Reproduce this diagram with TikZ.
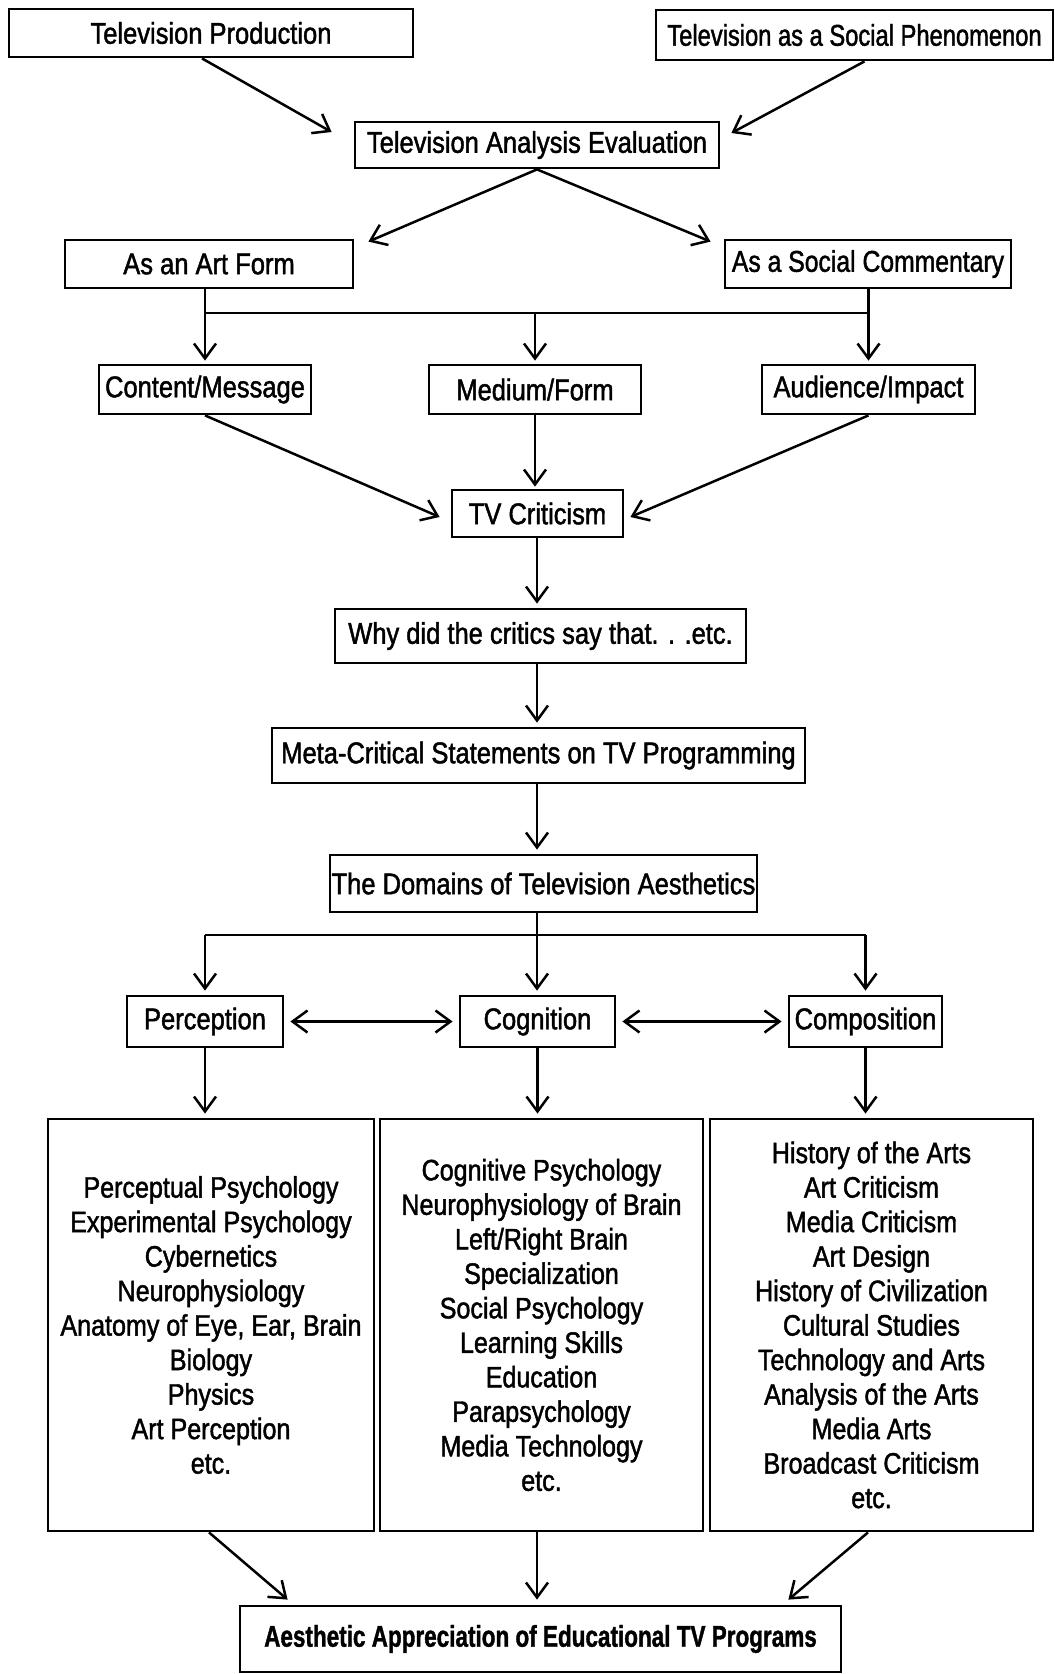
\documentclass[tikz,border=0pt]{standalone}
\usepackage{fontspec}
\setmainfont{Liberation Sans}[FakeStretch=0.85,FakeBold=1.5]
\newfontfamily\aesfont{Liberation Sans}[FakeStretch=0.75,FakeBold=1.2]
\usetikzlibrary{arrows.meta,calc}
\newcommand\sqz[2]{\scalebox{#1}[1]{#2}}
\begin{document}
\begin{tikzpicture}[x=1pt,y=-1pt,
 box/.style={draw,line width=2.8pt,inner sep=0pt,align=center,font=\fontsize{30}{34}\selectfont},
 lst/.style={box,font=\fontsize{29.5}{34.5}\selectfont},
 tip/.tip={Straight Barb[length=15pt,width=22pt]},
 arr/.style={line width=2.5pt,-tip},
 dbl/.style={line width=2.5pt,tip-tip},
 ln/.style={line width=2.5pt}]
\useasboundingbox (0,0) rectangle (1055,1674);
% nodes
\node[box,minimum width=404pt,minimum height=48pt] (tp) at (211,33) {Television Production};
\node[box,minimum width=397pt,minimum height=50pt] (tsp) at (854.5,35) {\sqz{0.93}{Television as a Social Phenomenon}};
\node[box,minimum width=364pt,minimum height=46pt] (tae) at (537,145) {Television Analysis Evaluation};
\node[box,minimum width=288pt,minimum height=48pt] (aaf) at (209,264) {As an Art Form};
\node[box,minimum width=286pt,minimum height=48pt] (asc) at (868,264) {\sqz{0.97}{As a Social Commentary}};
\node[box,minimum width=212pt,minimum height=49pt] (cm) at (205,389.5) {Content/Message};
\node[box,minimum width=212pt,minimum height=49pt] (mf) at (535,389.5) {Medium/Form};
\node[box,minimum width=213pt,minimum height=49pt] (ai) at (868.5,389.5) {Audience/Impact};
\node[box,minimum width=171pt,minimum height=47pt] (tvc) at (537.5,513.5) {TV Criticism};
\node[box,minimum width=411pt,minimum height=54pt] (why) at (540.5,636) {Why did the critics say that. . .etc.};
\node[box,minimum width=533pt,minimum height=55pt] (meta) at (538.5,755.5) {Meta-Critical Statements on TV Programming};
\node[box,minimum width=427pt,minimum height=57pt] (dom) at (543.5,883.5) {The Domains of Television Aesthetics};
\node[box,minimum width=156pt,minimum height=51pt] (per) at (205,1021.5) {Perception};
\node[box,minimum width=155pt,minimum height=51pt] (cog) at (537.5,1021.5) {Cognition};
\node[box,minimum width=153pt,minimum height=51pt] (com) at (865.5,1021.5) {Composition};
\node[lst,minimum width=326pt,minimum height=412pt] (b1) at (211,1325) {Perceptual Psychology\\Experimental Psychology\\Cybernetics\\Neurophysiology\\Anatomy of Eye, Ear, Brain\\Biology\\Physics\\Art Perception\\etc.};
\node[lst,minimum width=323pt,minimum height=412pt] (b2) at (541.5,1325) {Cognitive Psychology\\Neurophysiology of Brain\\Left/Right Brain\\Specialization\\Social Psychology\\Learning Skills\\Education\\Parapsychology\\Media Technology\\etc.};
\node[lst,minimum width=323pt,minimum height=412pt] (b3) at (871.5,1325) {History of the Arts\\Art Criticism\\Media Criticism\\Art Design\\History of Civilization\\Cultural Studies\\Technology and Arts\\Analysis of the Arts\\Media Arts\\Broadcast Criticism\\etc.};
\node[box,minimum width=601pt,minimum height=66pt,font=\aesfont\bfseries\fontsize{30}{34}\selectfont] (aes) at (540.5,1639) {Aesthetic Appreciation of Educational TV Programs};
% helper coordinates
\coordinate (spine) at (537,0);
\coordinate (bar) at (0,313);
\coordinate (dbar) at (0,935);
% connectors
\draw[arr] ([xshift=-9pt]tp.south) -- ([xshift=-22pt,yshift=13pt]tae.west);
\draw[arr] ([xshift=10pt]tsp.south) -- ([xshift=11pt,yshift=12pt]tae.east);
\draw[arr] (tae.south) -- ([xshift=14pt,yshift=-3pt]aaf.north east);
\draw[arr] (tae.south) -- ([xshift=-13pt,yshift=-3pt]asc.north west);
\draw[ln] (aaf.south -| cm.north) -- (cm.north |- bar) -- (ai.north |- bar) -- (asc.south -| ai.north);
\draw[arr,shorten >=3pt] (cm.north |- bar) -- (cm.north);
\draw[arr,shorten >=3pt] (mf.north |- bar) -- (mf.north);
\draw[arr,shorten >=3pt] (ai.north |- bar) -- (ai.north);
\draw[arr] (cm.south) -- ([xshift=-11pt,yshift=-3.5pt]tvc.west);
\draw[arr] (ai.south) -- ([xshift=6pt,yshift=-3.5pt]tvc.east);
\draw[arr,shorten >=2pt] (mf.south) -- (mf.south |- tvc.north);
\draw[arr,shorten >=4pt] (tvc.south -| spine) -- (why.north -| spine);
\draw[arr,shorten >=4pt] (why.south -| spine) -- (meta.north -| spine);
\draw[arr,shorten >=4pt] (meta.south -| spine) -- (dom.north -| spine);
\draw[ln] (dom.south -| spine) -- (spine |- dbar);
\draw[ln] (per.north |- dbar) -- (com.north |- dbar);
\draw[arr,shorten >=4pt] (per.north |- dbar) -- (per.north);
\draw[arr,shorten >=4pt] (spine |- dbar) -- (cog.north -| spine);
\draw[arr,shorten >=4pt] (com.north |- dbar) -- (com.north);
\draw[dbl,shorten <=6pt,shorten >=6pt] (per.east) -- (cog.west);
\draw[dbl,shorten <=6pt,shorten >=6pt] (cog.east) -- (com.west);
\draw[arr,shorten >=4pt] (per.south) -- (per.south |- b1.north);
\draw[arr,shorten >=4pt] (cog.south) -- (cog.south |- b2.north);
\draw[arr,shorten >=4pt] (com.south) -- (com.south |- b3.north);
\draw[arr] ([xshift=-2pt]b1.south) -- ([xshift=49pt,yshift=5pt]aes.north west);
\draw[arr,shorten >=5pt] (b2.south -| spine) -- (aes.north -| spine);
\draw[arr] ([xshift=-3.5pt]b3.south) -- ([xshift=-54pt,yshift=5pt]aes.north east);
\end{tikzpicture}
\end{document}
